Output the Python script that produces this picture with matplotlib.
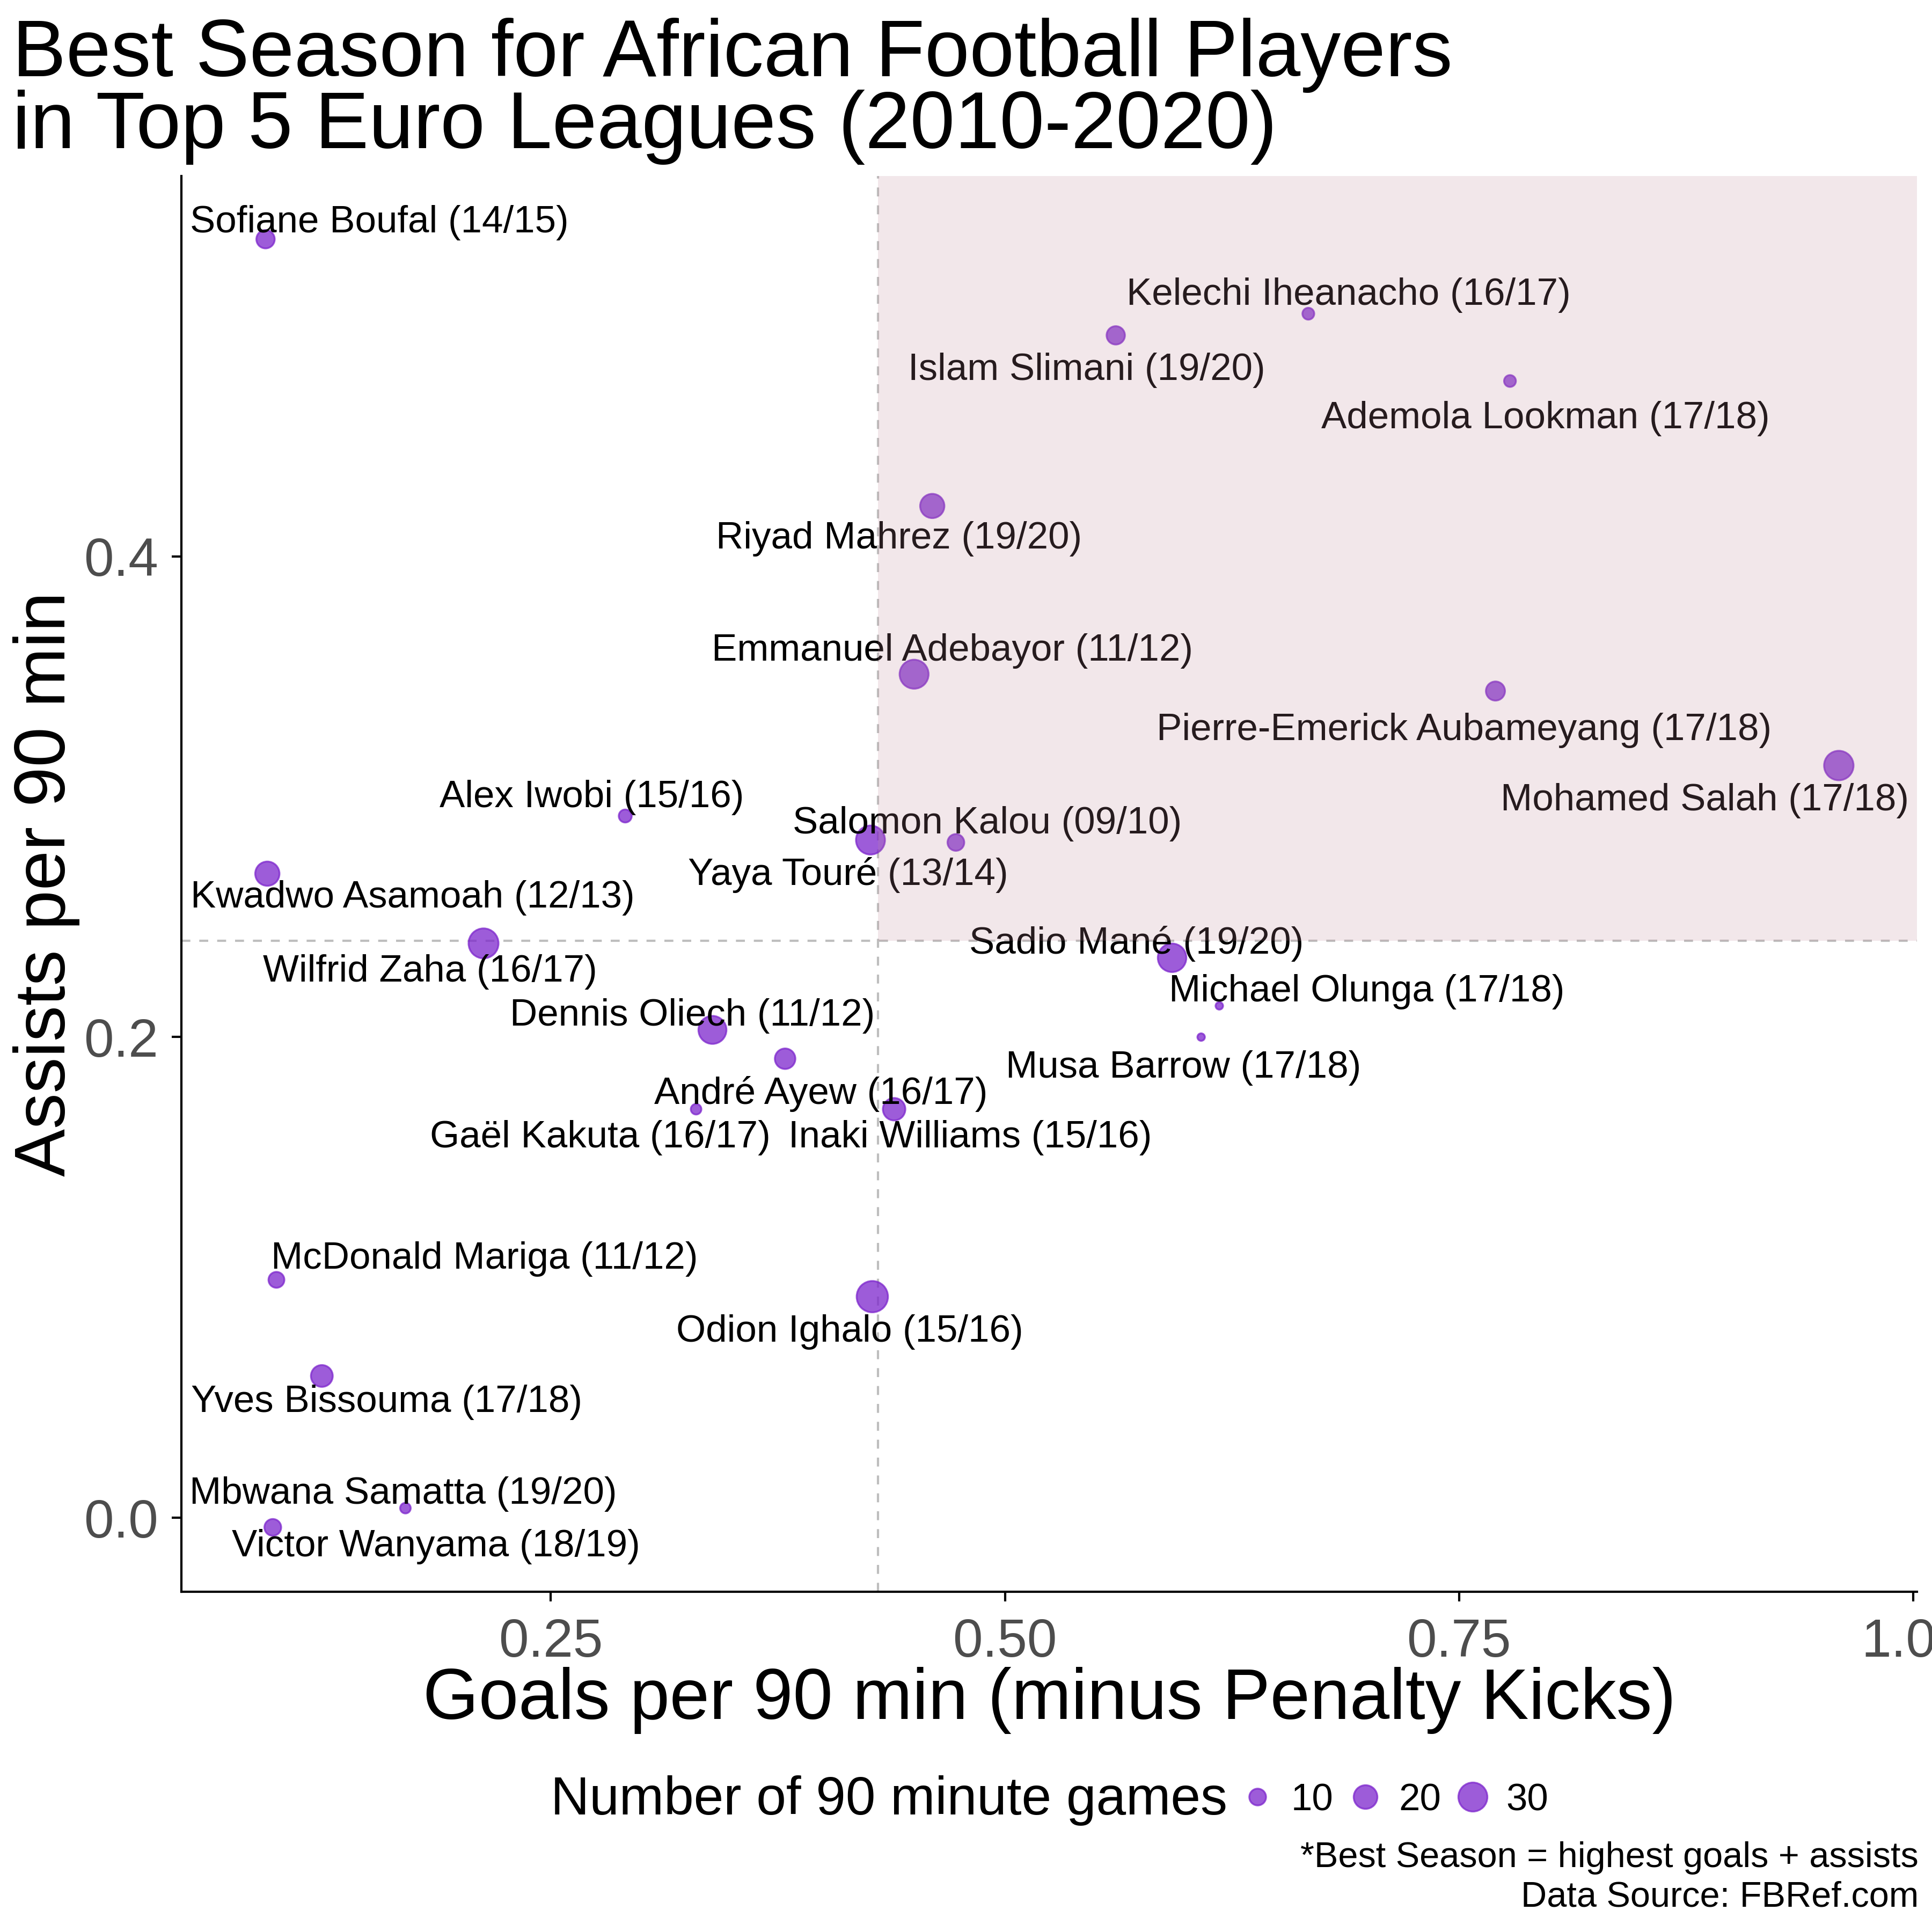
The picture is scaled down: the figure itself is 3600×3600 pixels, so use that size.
import matplotlib
matplotlib.use('Agg')
import matplotlib.pyplot as plt
from matplotlib.patches import Rectangle
from matplotlib.lines import Line2D

plt.rcParams['font.family'] = ['Liberation Sans', 'DejaVu Sans']

players = ['Sofiane Boufal', 'Kelechi Iheanacho', 'Islam Slimani', 'Ademola Lookman',
           'Riyad Mahrez', 'Emmanuel Adebayor', 'Pierre-Emerick Aubameyang', 'Mohamed Salah',
           'Alex Iwobi', 'Salomon Kalou', 'Yaya Touré', 'Kwadwo Asamoah', 'Sadio Mané',
           'Wilfrid Zaha', 'Michael Olunga', 'Dennis Oliech', 'Musa Barrow', 'André Ayew',
           'Gaël Kakuta', 'Inaki Williams', 'McDonald Mariga', 'Odion Ighalo',
           'Yves Bissouma', 'Mbwana Samatta', 'Victor Wanyama']
seasons = ['14/15', '16/17', '19/20', '17/18', '19/20', '11/12', '17/18', '17/18',
           '15/16', '09/10', '13/14', '12/13', '19/20', '16/17', '17/18', '11/12',
           '17/18', '16/17', '16/17', '15/16', '11/12', '15/16', '17/18', '19/20', '18/19']
goals_p90 = [0.093, 0.667, 0.561, 0.778, 0.460, 0.450, 0.770, 0.959, 0.291, 0.473,
             0.426, 0.094, 0.592, 0.213, 0.618, 0.339, 0.608, 0.379, 0.330, 0.439,
             0.099, 0.427, 0.124, 0.170, 0.097]
assists_p90 = [0.532, 0.501, 0.492, 0.473, 0.421, 0.351, 0.344, 0.313, 0.292, 0.281,
               0.282, 0.268, 0.233, 0.239, 0.213, 0.203, 0.200, 0.191, 0.170, 0.170,
               0.099, 0.092, 0.059, 0.004, -0.004]
games = [12, 5, 12, 5, 21, 30, 13, 31, 6, 10, 30, 21, 29, 32, 2, 28, 2, 15, 4, 18,
         9, 35, 17, 4, 10]

x_ref = 0.43
y_ref = 0.24

# label offsets in points (ggrepel placement)
label_offsets = [(51, 9), (18, 10), (-13, -14), (16, -15), (-15, -13), (17, 12), (-14, -16),
                 (-60, -14), (-15, 10), (14, 10), (-10, -14), (65, -9), (-16, 8), (-24, -11),
                 (66, 8), (-9, 8), (-8, -12), (16, -14), (-43, -11), (34, -11), (93, 11),
                 (-10, -14), (29, -10), (-1, 8), (73, -7)]

purple = '#7D26CD'


def size_of(g):
    return 5.6 * g


fig = plt.figure(figsize=(12, 12), dpi=300)
ax = fig.add_axes([0.0939, 0.1761, 0.8983, 0.7328])

ax.scatter(goals_p90, assists_p90, s=[size_of(g) for g in games], c=purple, alpha=0.75,
           edgecolors=purple, linewidths=0.8, zorder=3)

for name, season, x, y, off in zip(players, seasons, goals_p90, assists_p90, label_offsets):
    ax.annotate('{} ({})'.format(name, season), (x, y), xytext=(off[0], off[1] - 1.7),
                textcoords='offset points', ha='center', va='center', fontsize=17,
                color='black', zorder=4)

ax.axvline(x_ref, color='#BEBEBE', ls=(0, (4, 4)), lw=1.0, zorder=2)
ax.axhline(y_ref, color='#BEBEBE', ls=(0, (4, 4)), lw=1.0, zorder=2)

xmin, xmax = 0.0467, 1.002
ymin, ymax = -0.0308, 0.5583
ax.add_patch(Rectangle((x_ref, y_ref), xmax - x_ref, ymax - y_ref, facecolor='#C08A98',
                       alpha=0.2, edgecolor='none', zorder=5))

ax.set_xlim(xmin, xmax)
ax.set_ylim(ymin, ymax)
ax.set_xticks([0.25, 0.5, 0.75, 1.0])
ax.set_xticklabels(['0.25', '0.50', '0.75', '1.00'])
ax.set_yticks([0.0, 0.2, 0.4])
ax.set_yticklabels(['0.0', '0.2', '0.4'])
for s in ['top', 'right']:
    ax.spines[s].set_visible(False)
for s in ['left', 'bottom']:
    ax.spines[s].set_linewidth(1.0)
ax.tick_params(axis='both', length=4.4, width=1.0, color='black', labelsize=24,
               labelcolor='#4D4D4D')
ax.tick_params(axis='x', pad=7)
ax.tick_params(axis='y', pad=6)

fig.text(0.0064, 1 - 142 / 3600, 'Best Season for African Football Players', fontsize=36,
         ha='left', va='baseline')
fig.text(0.0064, 1 - 276 / 3600, 'in Top 5 Euro Leagues (2010-2020)', fontsize=36,
         ha='left', va='baseline')
fig.text(0.5431, 1 - 3203 / 3600, 'Goals per 90 min (minus Penalty Kicks)', fontsize=32,
         ha='center', va='baseline')
fig.text(0.024, 1 - 1647 / 3600, 'Assists per 90 min', fontsize=32, rotation=90,
         ha='center', va='center')

# size legend
fig.text(1026 / 3600, 0.068, 'Number of 90 minute games', fontsize=24, ha='left', va='center')
handles = [Line2D([], [], ls='none', marker='o', markersize=size_of(v) ** 0.5, color=purple,
                  alpha=0.75, markeredgewidth=0.8) for v in [10, 20, 30]]
fig.legend(handles, ['10', '20', '30'], ncol=3, loc='center left',
           bbox_to_anchor=(0.641, 0.068), frameon=False, fontsize=17, handlelength=1.0,
           handletextpad=0.38, columnspacing=0.34, borderpad=0, borderaxespad=0)

fig.text(0.993, 0.0383, '*Best Season = highest goals + assists', fontsize=16,
         ha='right', va='center')
fig.text(0.993, 0.0178, 'Data Source: FBRef.com', fontsize=16, ha='right', va='center')

fig.savefig('out.png', dpi=300)
